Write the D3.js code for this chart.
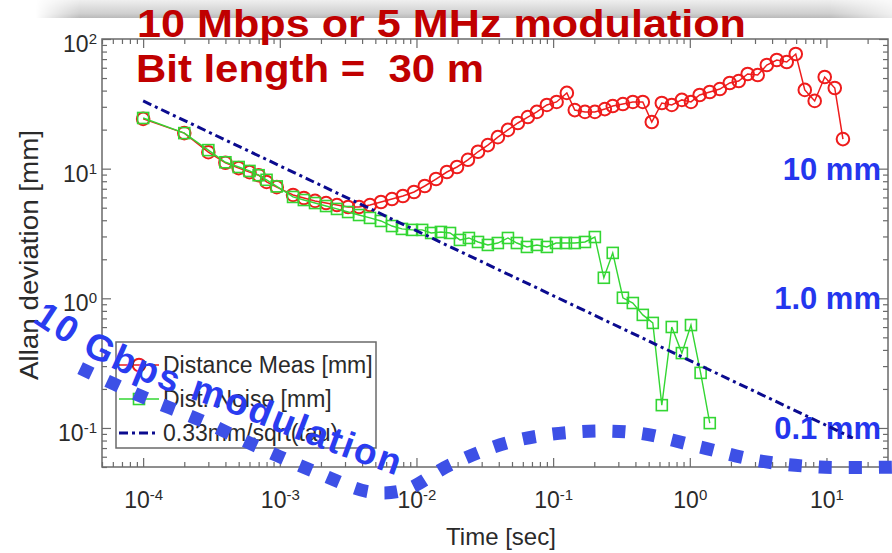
<!DOCTYPE html>
<html>
<head>
<meta charset="utf-8">
<script src="https://cdn.jsdelivr.net/npm/d3@7"></script>
<style>
  html, body { margin: 0; padding: 0; background: #fff; }
  svg { display: block; }
  text { font-family: "Liberation Sans", Arial, sans-serif; }
</style>
</head>
<body>
<div id="chart"></div>
<script>
// ---- data ----
const measTau = [1e-4, 2e-4, 3e-4, 4e-4, 5e-4, 6e-4, 7e-4, 8e-4, 9.5e-4,
  1.25e-3, 1.5e-3, 1.81e-3, 2.18e-3, 2.62e-3, 3.16e-3, 3.8e-3, 4.57e-3, 5.5e-3, 6.62e-3,
  7.96e-3, 9.59e-3, 1.15e-2, 1.39e-2, 1.67e-2, 1.98e-2, 2.38e-2, 2.82e-2, 3.33e-2, 3.94e-2,
  4.67e-2, 5.52e-2, 6.53e-2, 7.6e-2, 9.0e-2, 0.106, 0.126, 0.144, 0.171, 0.202,
  0.239, 0.273, 0.324, 0.383, 0.453, 0.527, 0.624, 0.738, 0.875, 1.02,
  1.18, 1.40, 1.66, 1.96, 2.28, 2.65, 3.14, 3.66, 4.33, 5.12,
  5.96, 6.94, 8.20, 9.71, 11.5, 13.2];
const measDev = [24.2, 18.8, 13.4, 11.1, 10.1, 9.4, 8.9, 7.9, 7.2,
  6.27, 5.94, 5.64, 5.43, 5.24, 5.06, 5.06, 5.24, 5.53, 5.83,
  6.15, 6.61, 7.35, 8.32, 9.42, 10.3, 11.7, 13.5, 15.2, 17.5,
  19.9, 22.5, 25.0, 27.4, 31.0, 32.7, 38.4, 28.3, 27.4, 27.4,
  28.8, 30.4, 31.5, 32.7, 32.7, 22.9, 32.1, 31.0, 33.9, 32.7,
  37.0, 39.0, 41.1, 45.8, 47.4, 53.7, 52.7, 63.0, 68.9, 66.5,
  76.6, 40.5, 33.3, 50.9, 41.9, 16.9];

const noiseTau = [1e-4, 2e-4, 3e-4, 4e-4, 5e-4, 6e-4, 7e-4, 8e-4, 9.5e-4,
  1.25e-3, 1.5e-3, 1.81e-3, 2.18e-3, 2.62e-3, 3.16e-3, 3.8e-3, 4.57e-3, 5.5e-3, 6.62e-3,
  7.83e-3, 9.27e-3, 1.10e-2, 1.28e-2, 1.51e-2, 1.76e-2, 2.08e-2, 2.42e-2, 2.82e-2, 3.33e-2,
  3.94e-2, 4.67e-2, 5.43e-2, 6.43e-2, 7.6e-2, 9.0e-2, 0.105, 0.124, 0.144, 0.171,
  0.202, 0.235, 0.273, 0.324, 0.383, 0.453, 0.536, 0.624, 0.738, 0.875,
  1.02, 1.20, 1.40];
const noiseDev = [24.6, 18.8, 13.9, 11.2, 10.3, 9.6, 8.9, 8.2, 7.3,
  6.05, 5.73, 5.43, 5.15, 4.89, 4.63, 4.39, 4.17, 3.95, 3.61,
  3.43, 3.37, 3.37, 3.19, 3.25, 3.19, 2.82, 2.92, 2.72, 2.58,
  2.67, 2.92, 2.67, 2.49, 2.58, 2.49, 2.67, 2.67, 2.67, 2.72,
  2.97, 1.44, 2.24, 1.01, 0.92, 0.745, 0.646, 0.150, 0.601, 0.378,
  0.622, 0.266, 0.109];

// 0.33mm/sqrt(tau) reference line, end points as drawn
const fitTau = [1e-4, 15.6];
const fitDev = [33.3, 0.0837];

const xDomain = [5e-5, 28.2];
const yDomain = [0.05, 100];
const legendLabels = ["Distance Meas [mm]", "Dist. Noise [mm]", "0.33mm/sqrt(tau)"];
const titleLines = ["10 Mbps or 5 MHz modulation", "Bit length =  30 m"];
const levelValues = [10, 1, 0.1];
const levelLabels = ["10 mm", "1.0 mm", "0.1 mm"];

// hand-drawn "10 Gbps" overlay curve (time, deviation)
const gbpsTau = [3.46e-5, 9.5e-5, 2.61e-4, 7.18e-4, 1.97e-3, 4.57e-3, 8.24e-3, 1.76e-2,
  4.83e-2, 0.144, 0.409, 1.18, 3.25, 8.93, 34.4];
const gbpsDev = [0.290, 0.177, 0.115, 0.0702, 0.0442, 0.0321, 0.0333, 0.0519,
  0.0780, 0.0931, 0.0916, 0.0715, 0.0557, 0.0500, 0.0500];
const gbpsTextTau = [1.45e-5, 3.6e-5, 1.12e-4, 4.33e-4, 1.41e-3, 3.86e-3, 8.95e-3, 2.0e-2];
const gbpsTextDev = [0.690, 0.378, 0.218, 0.131, 0.0800, 0.0540, 0.0395, 0.030];
const gbpsLabel = "10 Gbps modulation";

// ---- layout ----
const W = 892, H = 553;
const plot = { left: 102, right: 888, top: 39, bottom: 467 };
const AXIS = "#6a6a6a";

const svg = d3.select('#chart').append('svg')
  .attr('width', W)
  .attr('height', H);

const defs = svg.append('defs');

const x = d3.scaleLog().domain(xDomain).range([plot.left, plot.right]);
const y = d3.scaleLog().domain(yDomain).range([plot.bottom, plot.top]);

const isDecade = v => Math.abs(Math.log10(v) - Math.round(Math.log10(v))) < 1e-6;

// slide header shadow band
const bandGrad = defs.append('linearGradient').attr('id', 'band').attr('x1', 0).attr('y1', 0).attr('x2', 0).attr('y2', 1);
bandGrad.append('stop').attr('offset', '0%').attr('stop-color', '#efefef');
bandGrad.append('stop').attr('offset', '75%').attr('stop-color', '#cfcfcf');
bandGrad.append('stop').attr('offset', '100%').attr('stop-color', '#b9b9b9');
const fadeGrad = defs.append('linearGradient').attr('id', 'bandFade').attr('x1', 0).attr('x2', 1).attr('y1', 0).attr('y2', 0);
fadeGrad.append('stop').attr('offset', '0.04').attr('stop-color', '#fff').attr('stop-opacity', 0);
fadeGrad.append('stop').attr('offset', '0.09').attr('stop-color', '#fff').attr('stop-opacity', 1);
fadeGrad.append('stop').attr('offset', '0.93').attr('stop-color', '#fff').attr('stop-opacity', 1);
fadeGrad.append('stop').attr('offset', '1').attr('stop-color', '#fff').attr('stop-opacity', 0.3);
defs.append('mask').attr('id', 'bandMask')
  .append('rect').attr('x', 0).attr('y', 0).attr('width', W).attr('height', 20).attr('fill', 'url(#bandFade)');
svg.append('rect')
  .attr('x', 0).attr('y', 0).attr('width', W).attr('height', 18)
  .attr('fill', 'url(#band)')
  .attr('mask', 'url(#bandMask)');

// plot frame
svg.append('rect')
  .attr('x', plot.left).attr('y', plot.top)
  .attr('width', plot.right - plot.left).attr('height', plot.bottom - plot.top)
  .attr('fill', '#fff')
  .attr('stroke', AXIS)
  .attr('stroke-width', 1.5);

function styleAxis(g, horizontal, sign) {
  g.select('.domain').remove();
  g.selectAll('.tick line')
    .attr('stroke', AXIS)
    .attr('stroke-width', 1.2)
    .attr(horizontal ? 'y2' : 'x2', d => sign * (isDecade(d) ? 9 : 5));
}

function superscriptLabels(g, dy) {
  g.selectAll('.tick text').each(function(d) {
    const t = d3.select(this).text(null)
      .attr('fill', '#2a2a2a')
      .attr('font-size', 23)
      .attr('dy', dy);
    if (!isDecade(d)) return;
    t.append('tspan').text('10');
    t.append('tspan').attr('dy', '-0.55em').attr('font-size', 15).text(Math.round(Math.log10(d)));
  });
}

const xTicks = x.ticks();
const yTicks = y.ticks();

const gx = svg.append('g')
  .attr('transform', `translate(0,${plot.bottom})`)
  .call(d3.axisBottom(x).tickValues(xTicks).tickSize(-9).tickPadding(25));
styleAxis(gx, true, -1);
superscriptLabels(gx, '0.71em');

const gxTop = svg.append('g')
  .attr('transform', `translate(0,${plot.top})`)
  .call(d3.axisTop(x).tickValues(xTicks).tickSize(-9).tickFormat(''));
styleAxis(gxTop, true, 1);

const gy = svg.append('g')
  .attr('transform', `translate(${plot.left},0)`)
  .call(d3.axisLeft(y).tickValues(yTicks).tickSize(-9).tickPadding(5));
styleAxis(gy, false, 1);
superscriptLabels(gy, '0.55em');

const gyRight = svg.append('g')
  .attr('transform', `translate(${plot.right},0)`)
  .call(d3.axisRight(y).tickValues(yTicks).tickSize(-9).tickFormat(''));
styleAxis(gyRight, false, -1);

// axis titles
svg.append('text')
  .attr('x', 501).attr('y', 545)
  .attr('text-anchor', 'middle')
  .attr('font-size', 24)
  .attr('fill', '#2a2a2a')
  .text('Time [sec]');
svg.append('text')
  .attr('transform', 'translate(38,255) rotate(-90)')
  .attr('text-anchor', 'middle')
  .attr('font-size', 25)
  .attr('textLength', 250)
  .attr('lengthAdjust', 'spacingAndGlyphs')
  .attr('fill', '#2a2a2a')
  .text('Allan deviation [mm]');

// level annotations (drawn under the data)
svg.selectAll('.level')
  .data(levelValues)
  .enter()
  .append('text')
  .attr('class', 'level')
  .attr('x', 881)
  .attr('y', d => y(d) + 11)
  .attr('text-anchor', 'end')
  .attr('font-family', '"Open Sans", sans-serif')
  .attr('font-weight', 700)
  .attr('font-size', 31)
  .attr('fill', '#2436ee')
  .text((d, i) => levelLabels[i]);

// ---- series ----
const meas = measTau.map((t, i) => ({ t, v: measDev[i] }));
const noise = noiseTau.map((t, i) => ({ t, v: noiseDev[i] }));
const fit = fitTau.map((t, i) => ({ t, v: fitDev[i] }));

const line = d3.line().x(d => x(d.t)).y(d => y(d.v));

const RED = '#ee1c1c', GREEN = '#33d633', NAVY = '#0b0b8f';

svg.append('path')
  .datum(meas)
  .attr('d', line)
  .attr('fill', 'none')
  .attr('stroke', RED)
  .attr('stroke-width', 1.5);
svg.selectAll('.meas-pt')
  .data(meas)
  .enter()
  .append('circle')
  .attr('class', 'meas-pt')
  .attr('cx', d => x(d.t))
  .attr('cy', d => y(d.v))
  .attr('r', 6.3)
  .attr('fill', 'none')
  .attr('stroke', RED)
  .attr('stroke-width', 2);

svg.append('path')
  .datum(noise)
  .attr('d', line)
  .attr('fill', 'none')
  .attr('stroke', GREEN)
  .attr('stroke-width', 1.4);
svg.selectAll('.noise-pt')
  .data(noise)
  .enter()
  .append('rect')
  .attr('class', 'noise-pt')
  .attr('x', d => x(d.t) - 5.5)
  .attr('y', d => y(d.v) - 5.5)
  .attr('width', 11)
  .attr('height', 11)
  .attr('fill', 'none')
  .attr('stroke', GREEN)
  .attr('stroke-width', 1.6);

svg.append('path')
  .datum(fit)
  .attr('d', line)
  .attr('fill', 'none')
  .attr('stroke', NAVY)
  .attr('stroke-width', 3)
  .attr('stroke-dasharray', '9 4 3 4');

// ---- legend ----
const legend = svg.append('g').attr('transform', 'translate(116,342)');
legend.append('rect')
  .attr('width', 260).attr('height', 106)
  .attr('fill', '#fff')
  .attr('stroke', AXIS)
  .attr('stroke-width', 1.5);
const rowY = [23, 57, 91];
legendLabels.forEach((label, i) => {
  const g = legend.append('g').attr('transform', `translate(0,${rowY[i]})`);
  const ln = g.append('line').attr('x1', 3).attr('x2', 43).attr('y1', 0).attr('y2', 0);
  if (i === 0) {
    ln.attr('stroke', RED).attr('stroke-width', 1.5);
    g.append('circle').attr('cx', 23).attr('cy', 0).attr('r', 6.3)
      .attr('fill', 'none').attr('stroke', RED).attr('stroke-width', 2);
  } else if (i === 1) {
    ln.attr('stroke', GREEN).attr('stroke-width', 1.4);
    g.append('rect').attr('x', 17.5).attr('y', -5.5).attr('width', 11).attr('height', 11)
      .attr('fill', 'none').attr('stroke', GREEN).attr('stroke-width', 1.6);
  } else {
    ln.attr('stroke', NAVY).attr('stroke-width', 3).attr('stroke-dasharray', '9 4 3 4');
  }
  g.append('text')
    .attr('x', 47).attr('y', 8)
    .attr('font-size', 23)
    .attr('fill', '#2a2a2a')
    .text(label);
});

// ---- title ----
const titleG = svg.append('g')
  .attr('font-family', '"Open Sans", sans-serif')
  .attr('font-weight', 700)
  .attr('font-size', 39)
  .attr('fill', '#c00000');
titleG.append('text')
  .attr('xml:space', 'preserve')
  .style('white-space', 'pre')
  .attr('x', 137).attr('y', 37)
  .attr('textLength', 609)
  .attr('lengthAdjust', 'spacingAndGlyphs')
  .text(titleLines[0]);
titleG.append('text')
  .attr('xml:space', 'preserve')
  .style('white-space', 'pre')
  .attr('x', 136).attr('y', 82)
  .attr('textLength', 348)
  .attr('lengthAdjust', 'spacingAndGlyphs')
  .text(titleLines[1]);

// ---- 10 Gbps overlay ----
const gbps = gbpsTau.map((t, i) => ({ t, v: gbpsDev[i] }));
svg.append('path')
  .datum(gbps)
  .attr('d', d3.line().x(d => x(d.t)).y(d => y(d.v)).curve(d3.curveCatmullRom))
  .attr('fill', 'none')
  .attr('stroke', '#3d50e6')
  .attr('stroke-width', 13)
  .attr('stroke-dasharray', '13 17');

const gbpsText = gbpsTextTau.map((t, i) => ({ t, v: gbpsTextDev[i] }));
defs.append('path')
  .attr('id', 'gbpsPath')
  .datum(gbpsText)
  .attr('d', d3.line().x(d => x(d.t)).y(d => y(d.v)).curve(d3.curveCatmullRom));
svg.append('text')
  .attr('font-family', '"Open Sans", sans-serif')
  .attr('font-weight', 700)
  .attr('font-size', 37)
  .attr('letter-spacing', 2.4)
  .attr('fill', '#2a3cf0')
  .append('textPath')
  .attr('href', '#gbpsPath')
  .attr('startOffset', 4)
  .text(gbpsLabel);
</script>
</body>
</html>
